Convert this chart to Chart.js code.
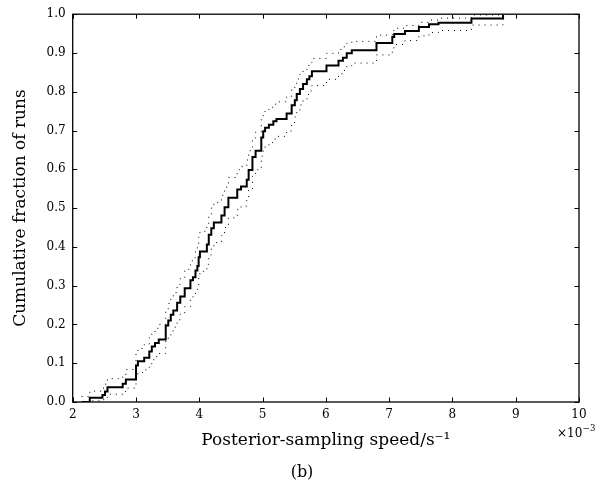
<!DOCTYPE html>
<html>
<head>
<meta charset="utf-8">
<script src="https://cdn.jsdelivr.net/npm/chart.js@4.4.1/dist/chart.umd.min.js"></script>
<style>
  html, body { margin: 0; padding: 0; background: #fff; }
  #wrap { position: relative; width: 615px; height: 495px; }
</style>
</head>
<body>
<div id="wrap"><canvas id="c" width="615" height="495"></canvas></div>
<script>
// Posterior-sampling speed (units of 1e-3 s^-1) where the cumulative fraction steps
const speedX = [2.14, 2.27, 2.47, 2.51, 2.55, 2.79, 2.84, 3.00, 3.03, 3.13,
                3.21, 3.25, 3.30, 3.36, 3.47, 3.51, 3.55, 3.59, 3.65, 3.70,
                3.77, 3.86, 3.90, 3.94, 3.97, 3.99, 4.01, 4.12, 4.15, 4.19,
                4.23, 4.35, 4.40, 4.46, 4.60, 4.66, 4.75, 4.78, 4.84, 4.89,
                4.98, 5.01, 5.04, 5.10, 5.17, 5.22, 5.38, 5.46, 5.51, 5.54,
                5.59, 5.64, 5.70, 5.74, 5.78, 6.01, 6.20, 6.27, 6.33, 6.41,
                6.80, 7.05, 7.08, 7.25, 7.47, 7.63, 7.78, 8.30, 8.80];
// Cumulative fraction of runs (solid step line)
const cdfMain = [0.000, 0.011, 0.018, 0.027, 0.038, 0.047, 0.058, 0.094, 0.105, 0.114,
                 0.130, 0.143, 0.152, 0.161, 0.197, 0.210, 0.225, 0.236, 0.256, 0.272,
                 0.293, 0.314, 0.322, 0.339, 0.351, 0.373, 0.388, 0.406, 0.431, 0.448,
                 0.463, 0.481, 0.502, 0.527, 0.548, 0.556, 0.573, 0.598, 0.632, 0.648,
                 0.682, 0.698, 0.707, 0.715, 0.724, 0.730, 0.744, 0.765, 0.778, 0.794,
                 0.807, 0.820, 0.832, 0.840, 0.853, 0.868, 0.880, 0.888, 0.899, 0.907,
                 0.926, 0.941, 0.949, 0.957, 0.967, 0.974, 0.978, 0.989, 1.000];
// Upper dotted band
const cdfUpper = [0.014, 0.028, 0.036, 0.046, 0.060, 0.070, 0.084, 0.125, 0.138, 0.148,
                  0.166, 0.180, 0.190, 0.200, 0.240, 0.254, 0.270, 0.282, 0.303, 0.320,
                  0.342, 0.364, 0.372, 0.390, 0.402, 0.425, 0.440, 0.458, 0.483, 0.500,
                  0.515, 0.533, 0.554, 0.579, 0.599, 0.607, 0.624, 0.648, 0.681, 0.696,
                  0.729, 0.744, 0.752, 0.760, 0.768, 0.774, 0.787, 0.806, 0.818, 0.833,
                  0.845, 0.857, 0.868, 0.875, 0.886, 0.899, 0.909, 0.916, 0.925, 0.930,
                  0.946, 0.958, 0.964, 0.971, 0.979, 0.985, 0.990, 0.998, 1.000];
// Lower dotted band
const cdfLower = [0.000, 0.003, 0.006, 0.012, 0.020, 0.027, 0.036, 0.066, 0.076, 0.083,
                  0.098, 0.109, 0.117, 0.125, 0.158, 0.170, 0.183, 0.193, 0.212, 0.227,
                  0.246, 0.266, 0.274, 0.290, 0.301, 0.323, 0.337, 0.355, 0.379, 0.396,
                  0.411, 0.429, 0.450, 0.475, 0.496, 0.505, 0.522, 0.547, 0.582, 0.599,
                  0.634, 0.651, 0.660, 0.669, 0.678, 0.685, 0.699, 0.721, 0.735, 0.752,
                  0.766, 0.780, 0.793, 0.802, 0.816, 0.832, 0.846, 0.855, 0.867, 0.874,
                  0.895, 0.913, 0.922, 0.932, 0.944, 0.953, 0.958, 0.972, 0.990];
const xTicks = [2, 3, 4, 5, 6, 7, 8, 9, 10];
const yTicks = [0.0, 0.1, 0.2, 0.3, 0.4, 0.5, 0.6, 0.7, 0.8, 0.9, 1.0];

const FONT = "'DejaVu Serif', 'Liberation Serif', serif";

function pts(ys) { return speedX.map((x, i) => ({ x: x, y: ys[i] })); }

const frame = {
  id: 'frame',
  afterDraw(chart) {
    const { ctx, chartArea: a, scales: { x, y } } = chart;
    ctx.save();
    ctx.strokeStyle = '#000';
    ctx.lineWidth = 1.3;
    ctx.strokeRect(a.left, a.top, a.right - a.left, a.bottom - a.top);
    ctx.lineWidth = 1;
    const L = 4.5;
    ctx.beginPath();
    xTicks.forEach(v => {
      const p = Math.round(x.getPixelForValue(v)) + 0.5;
      ctx.moveTo(p, a.bottom); ctx.lineTo(p, a.bottom - L);
      ctx.moveTo(p, a.top); ctx.lineTo(p, a.top + L);
    });
    yTicks.forEach(v => {
      const p = Math.round(y.getPixelForValue(v)) + 0.5;
      ctx.moveTo(a.left, p); ctx.lineTo(a.left + L, p);
      ctx.moveTo(a.right, p); ctx.lineTo(a.right - L, p);
    });
    ctx.stroke();
    // offset text and panel label
    ctx.fillStyle = '#000';
    ctx.textBaseline = 'alphabetic';
    ctx.textAlign = 'left';
    ctx.font = "12px " + FONT;
    ctx.fillText('×10', 557, 437);
    const w = ctx.measureText('×10').width;
    ctx.font = "8.5px " + FONT;
    ctx.fillText('−3', 557 + w + 0.5, 431);
    ctx.font = "16px " + FONT;
    ctx.textAlign = 'center';
    ctx.fillText('(b)', 302, 477);
    ctx.restore();
  }
};

new Chart(document.getElementById('c'), {
  type: 'line',
  data: {
    datasets: [
      { label: 'lower', data: pts(cdfLower), stepped: true, borderColor: '#000',
        borderWidth: 1, borderDash: [1, 5], pointRadius: 0, fill: false, order: 2 },
      { label: 'upper', data: pts(cdfUpper), stepped: true, borderColor: '#000',
        borderWidth: 1, borderDash: [1, 5], pointRadius: 0, fill: false, order: 2 },
      { label: 'main', data: pts(cdfMain), stepped: true, borderColor: '#000',
        borderWidth: 2, pointRadius: 0, fill: false, order: 1 }
    ]
  },
  options: {
    responsive: false,
    animation: false,
    devicePixelRatio: 1,
    layout: { padding: { left: 0, right: 36, top: 3, bottom: 0 } },
    plugins: { legend: { display: false }, tooltip: { enabled: false } },
    scales: {
      x: {
        type: 'linear', min: 2, max: 10,
        afterBuildTicks: s => { s.ticks = xTicks.map(v => ({ value: v })); },
        afterFit: s => { s.height = 93; },
        grid: { display: false, drawTicks: false },
        border: { display: false },
        ticks: { color: '#000', padding: 6, font: { family: FONT, size: 12 },
                 callback: v => String(v), maxRotation: 0, autoSkip: false },
        title: { display: true, text: 'Posterior-sampling speed/s⁻¹', color: '#000',
                 font: { family: FONT, size: 17 }, padding: { top: 0, bottom: 44 } }
      },
      y: {
        type: 'linear', min: 0, max: 1,
        afterBuildTicks: s => { s.ticks = yTicks.map(v => ({ value: v })); },
        afterFit: s => { s.width = 72.7; },
        grid: { display: false, drawTicks: false },
        border: { display: false },
        ticks: { color: '#000', padding: 7, font: { family: FONT, size: 12 },
                 callback: v => Number(v).toFixed(1), autoSkip: false },
        title: { display: true, text: 'Cumulative fraction of runs', color: '#000',
                 font: { family: FONT, size: 17 }, padding: { top: 10, bottom: 0 } }
      }
    }
  },
  plugins: [frame]
});
</script>
</body>
</html>
